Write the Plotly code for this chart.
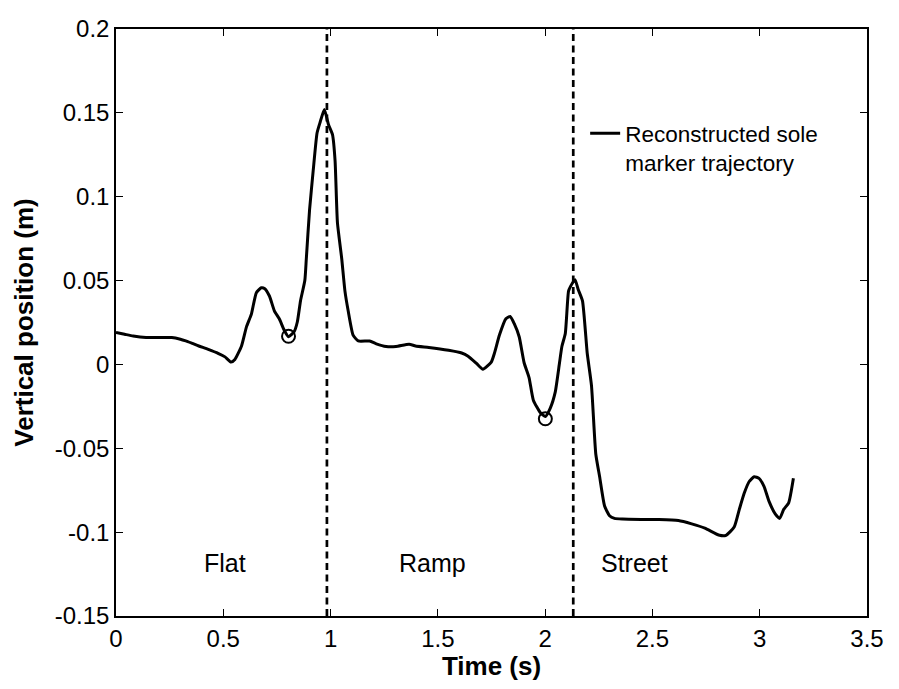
import plotly.graph_objects as go

# --- Data ---
time_s = [0.00, 0.04, 0.08, 0.14, 0.20, 0.26, 0.30, 0.325, 0.356, 0.386, 0.43, 0.478,
          0.508, 0.536, 0.554, 0.585, 0.608, 0.631, 0.654, 0.677, 0.692, 0.715, 0.738,
          0.761, 0.784, 0.804, 0.830, 0.845, 0.860, 0.880, 0.887, 0.902, 0.919, 0.937,
          0.952, 0.971, 0.991, 1.009, 1.021, 1.032, 1.052, 1.067, 1.082, 1.105, 1.129,
          1.182, 1.213, 1.259, 1.305, 1.366, 1.396, 1.458, 1.550, 1.611, 1.641, 1.680,
          1.710, 1.749, 1.764, 1.787, 1.817, 1.837, 1.856, 1.879, 1.902, 1.925, 1.945,
          1.979, 2.001, 2.024, 2.047, 2.067, 2.078, 2.094, 2.109, 2.119, 2.139, 2.154,
          2.174, 2.196, 2.216, 2.236, 2.254, 2.277, 2.300, 2.323, 2.361, 2.45, 2.530,
          2.621, 2.683, 2.744, 2.813, 2.843, 2.881, 2.905, 2.928, 2.951, 2.974, 2.997,
          3.020, 3.043, 3.073, 3.093, 3.112, 3.135, 3.157]
vertical_m = [0.0190, 0.0180, 0.0170, 0.0161, 0.0160, 0.0160, 0.0150, 0.0140, 0.0125,
              0.0110, 0.0090, 0.0065, 0.0045, 0.0014, 0.0030, 0.0110, 0.0224, 0.0300,
              0.0428, 0.0457, 0.0453, 0.0408, 0.0320, 0.0272, 0.0204, 0.0165, 0.0195,
              0.0253, 0.0380, 0.0500, 0.0630, 0.0920, 0.1155, 0.1380, 0.1447, 0.1520,
              0.1427, 0.1370, 0.1214, 0.0845, 0.0630, 0.0437, 0.0320, 0.0175, 0.0140,
              0.0140, 0.0123, 0.0107, 0.0107, 0.0120, 0.0110, 0.0101, 0.0084, 0.0068,
              0.0049, 0.0006, -0.0029, 0.0014, 0.0068, 0.0175, 0.0272, 0.0286, 0.0243,
              0.0165, 0.0010, -0.0078, -0.0213, -0.0290, -0.0310, -0.0260, -0.0165,
              0.0010, 0.0107, 0.0185, 0.0437, 0.0467, 0.0505, 0.0447, 0.0379, 0.0068,
              -0.0126, -0.0534, -0.0670, -0.0844, -0.0902, -0.0918, -0.0922, -0.0924,
              -0.0925, -0.0931, -0.0951, -0.0976, -0.1019, -0.1019, -0.0970, -0.0864,
              -0.0767, -0.0698, -0.0670, -0.0679, -0.0727, -0.0815, -0.0893, -0.0918,
              -0.0864, -0.0825, -0.0679]

event_t = [0.804, 2.001]
event_y = [0.0168, -0.0324]

phase_boundaries = [0.983, 2.131]
phase_names = ["Flat", "Ramp", "Street"]
phase_label_t = [0.51, 1.475, 2.416]
phase_label_y = [-0.1186, -0.1186, -0.1186]

x_ticks = [0, 0.5, 1, 1.5, 2, 2.5, 3, 3.5]
x_ticktext = ["0", "0.5", "1", "1.5", "2", "2.5", "3", "3.5"]
y_ticks = [-0.15, -0.1, -0.05, 0, 0.05, 0.1, 0.15, 0.2]
y_ticktext = ["-0.15", "-0.1", "-0.05", "0", "0.05", "0.1", "0.15", "0.2"]

FONT = "Liberation Sans, Arial, sans-serif"

fig = go.Figure()

# phase boundary dashed lines
for b in phase_boundaries:
    fig.add_trace(go.Scatter(
        x=[b, b], y=[y_ticks[0], y_ticks[-1]], mode="lines",
        line=dict(color="black", width=2.7, dash="7px,4.5px"),
        showlegend=False, hoverinfo="skip"))

fig.add_trace(go.Scatter(
    x=time_s, y=vertical_m, mode="lines",
    line=dict(color="black", width=3, shape="spline", smoothing=0.5),
    name="Reconstructed sole<br>marker trajectory", showlegend=True))

fig.add_trace(go.Scatter(
    x=event_t, y=event_y, mode="markers",
    marker=dict(symbol="circle-open", size=13, color="black", line=dict(width=2)),
    showlegend=False))

for name, tx, ty in zip(phase_names, phase_label_t, phase_label_y):
    fig.add_annotation(x=tx, y=ty, text=name, showarrow=False,
                       font=dict(family=FONT, size=25, color="black"),
                       xanchor="center", yanchor="middle")

axis_common = dict(
    showgrid=False, zeroline=False, showline=True, linecolor="black", linewidth=1.5,
    mirror="ticks", ticks="inside", ticklen=7, tickwidth=1, tickcolor="black",
    ticklabeloverflow="allow",
    tickfont=dict(family=FONT, size=24, color="black"))

fig.update_xaxes(range=[0, 3.5], tickvals=x_ticks, ticktext=x_ticktext,
                 title=dict(text="<b>Time (s)</b>", font=dict(family=FONT, size=26, color="black"),
                            standoff=0),
                 **axis_common)
fig.update_yaxes(range=[-0.15, 0.2], tickvals=y_ticks, ticktext=y_ticktext,
                 title=dict(text="<b>Vertical position (m)</b>",
                            font=dict(family=FONT, size=26, color="black"), standoff=14),
                 **axis_common)

# The page body has an 8px default margin; the figure is sized so that it
# fits inside the 899x689 window without scrollbars.
fig.update_layout(
    width=883, height=673,
    margin=dict(l=108, r=13, t=7, b=65),
    paper_bgcolor="white", plot_bgcolor="white",
    font=dict(family=FONT, color="black"),
    legend=dict(x=0.6247, y=0.8586, xanchor="left", yanchor="top", valign="top",
                bgcolor="rgba(0,0,0,0)", borderwidth=0,
                font=dict(family=FONT, size=22.5, color="black")),
)

fig.write_html("out.html")
